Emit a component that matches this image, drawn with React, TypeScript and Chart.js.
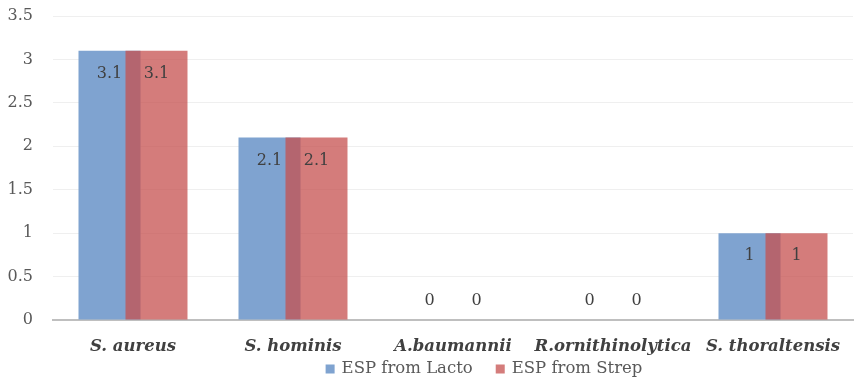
import React, { useEffect, useRef } from "react";
import { Chart, registerables } from "chart.js";

Chart.register(...registerables);

const categories = ["S. aureus", "S. hominis", "A.baumannii", "R.ornithinolytica", "S. thoraltensis"];
const lactoValues = [3.1, 2.1, 0, 0, 1];
const strepValues = [3.1, 2.1, 0, 0, 1];
const seriesNames = ["ESP from Lacto", "ESP from Strep"];

const FONT = "'DejaVu Serif', serif";
const BLUE = "rgb(127,163,208)";
const RED = "rgba(198,80,79,0.75)";
const RED_SOLID = "rgb(212,124,123)";

// Draw the second (red) series on top of the first so the overlap blends like the reference
const redOnTopPlugin = {
  id: "redOnTop",
  beforeDatasetDraw(chart: any, args: any) {
    if (args.index === 1 && !chart.$drawingRed) return false;
    return true;
  },
  afterDatasetsDraw(chart: any) {
    chart.$drawingRed = true;
    const meta = chart.getDatasetMeta(1);
    const ctx = chart.ctx;
    ctx.save();
    meta.controller.draw();
    ctx.restore();
    chart.$drawingRed = false;
  },
};

const labelPlugin = {
  id: "barLabels",
  afterDatasetsDraw(chart: any) {
    const ctx = chart.ctx;
    ctx.save();
    ctx.font = `16px ${FONT}`;
    ctx.fillStyle = "#404040";
    ctx.textAlign = "center";
    ctx.textBaseline = "middle";
    chart.data.datasets.forEach((ds: any, di: number) => {
      const meta = chart.getDatasetMeta(di);
      meta.data.forEach((el: any, i: number) => {
        const v = ds.data[i];
        const y = v > 0 ? el.y + 23 : el.base - 19;
        ctx.fillText(String(v), el.x, y);
      });
    });
    ctx.restore();
  },
};

const legendPlugin = {
  id: "customLegend",
  afterDraw(chart: any) {
    const ctx = chart.ctx;
    const colors = [BLUE, RED_SOLID];
    ctx.save();
    ctx.font = `16.5px ${FONT}`;
    ctx.textBaseline = "middle";
    ctx.textAlign = "left";
    const box = 9;
    const gap = 7;
    const itemGap = 23;
    const widths = seriesNames.map((n) => box + gap + ctx.measureText(n).width);
    const total = widths.reduce((a, b) => a + b, 0) + itemGap * (widths.length - 1);
    const ca = chart.chartArea;
    let x = (ca.left + ca.right) / 2 + 31 - total / 2;
    const y = chart.height - 15;
    seriesNames.forEach((n, i) => {
      ctx.fillStyle = colors[i];
      ctx.fillRect(x, y - box / 2, box, box);
      ctx.fillStyle = "#595959";
      ctx.fillText(n, x + box + gap, y);
      x += widths[i] + itemGap;
    });
    ctx.restore();
  },
};

export default function App() {
  const ref = useRef<HTMLCanvasElement | null>(null);
  useEffect(() => {
    if (!ref.current) return;
    const chart = new Chart(ref.current, {
      type: "bar",
      data: {
        labels: categories,
        datasets: [
          {
            label: seriesNames[0],
            data: lactoValues,
            backgroundColor: BLUE,
            categoryPercentage: 0.5875,
            barPercentage: 1.319,
          },
          {
            label: seriesNames[1],
            data: strepValues,
            backgroundColor: RED,
            categoryPercentage: 0.5875,
            barPercentage: 1.319,
          },
        ],
      },
      options: {
        animation: false,
        responsive: false,
        maintainAspectRatio: false,
        layout: { padding: { top: 8, right: 2, left: 0, bottom: 0 } },
        plugins: {
          legend: { display: false },
          tooltip: { enabled: false },
        },
        scales: {
          x: {
            grid: { display: false, drawTicks: false },
            border: { display: true, color: "#bfbfbf", width: 2 },
            ticks: {
              color: "#404040",
              font: { family: FONT, size: 16.5, weight: "bold", style: "italic" },
              padding: 17,
              maxRotation: 0,
              autoSkip: false,
            },
            afterFit: (s: any) => {
              s.height = 64;
              s.paddingLeft = 0;
              s.paddingRight = 0;
            },
          },
          y: {
            min: 0,
            max: 3.5,
            ticks: {
              stepSize: 0.5,
              color: "#595959",
              font: { family: FONT, size: 16 },
              padding: 20,
              callback: (v: any) => String(+v),
            },
            grid: {
              drawTicks: false,
              color: (c: any) => (c.tick && c.tick.value === 0 ? "rgba(0,0,0,0)" : "#efefef"),
              lineWidth: 1,
            },
            border: { display: false },
            afterFit: (s: any) => {
              s.width = 45;
              s.paddingTop = 0;
              s.paddingBottom = 0;
            },
          },
        },
      },
      plugins: [redOnTopPlugin, labelPlugin, legendPlugin],
    });
    return () => chart.destroy();
  }, []);
  return (
    <div style={{ width: 847, height: 376 }}>
      <canvas ref={ref} width={847} height={376} style={{ width: 847, height: 376, display: "block" }} />
    </div>
  );
}
